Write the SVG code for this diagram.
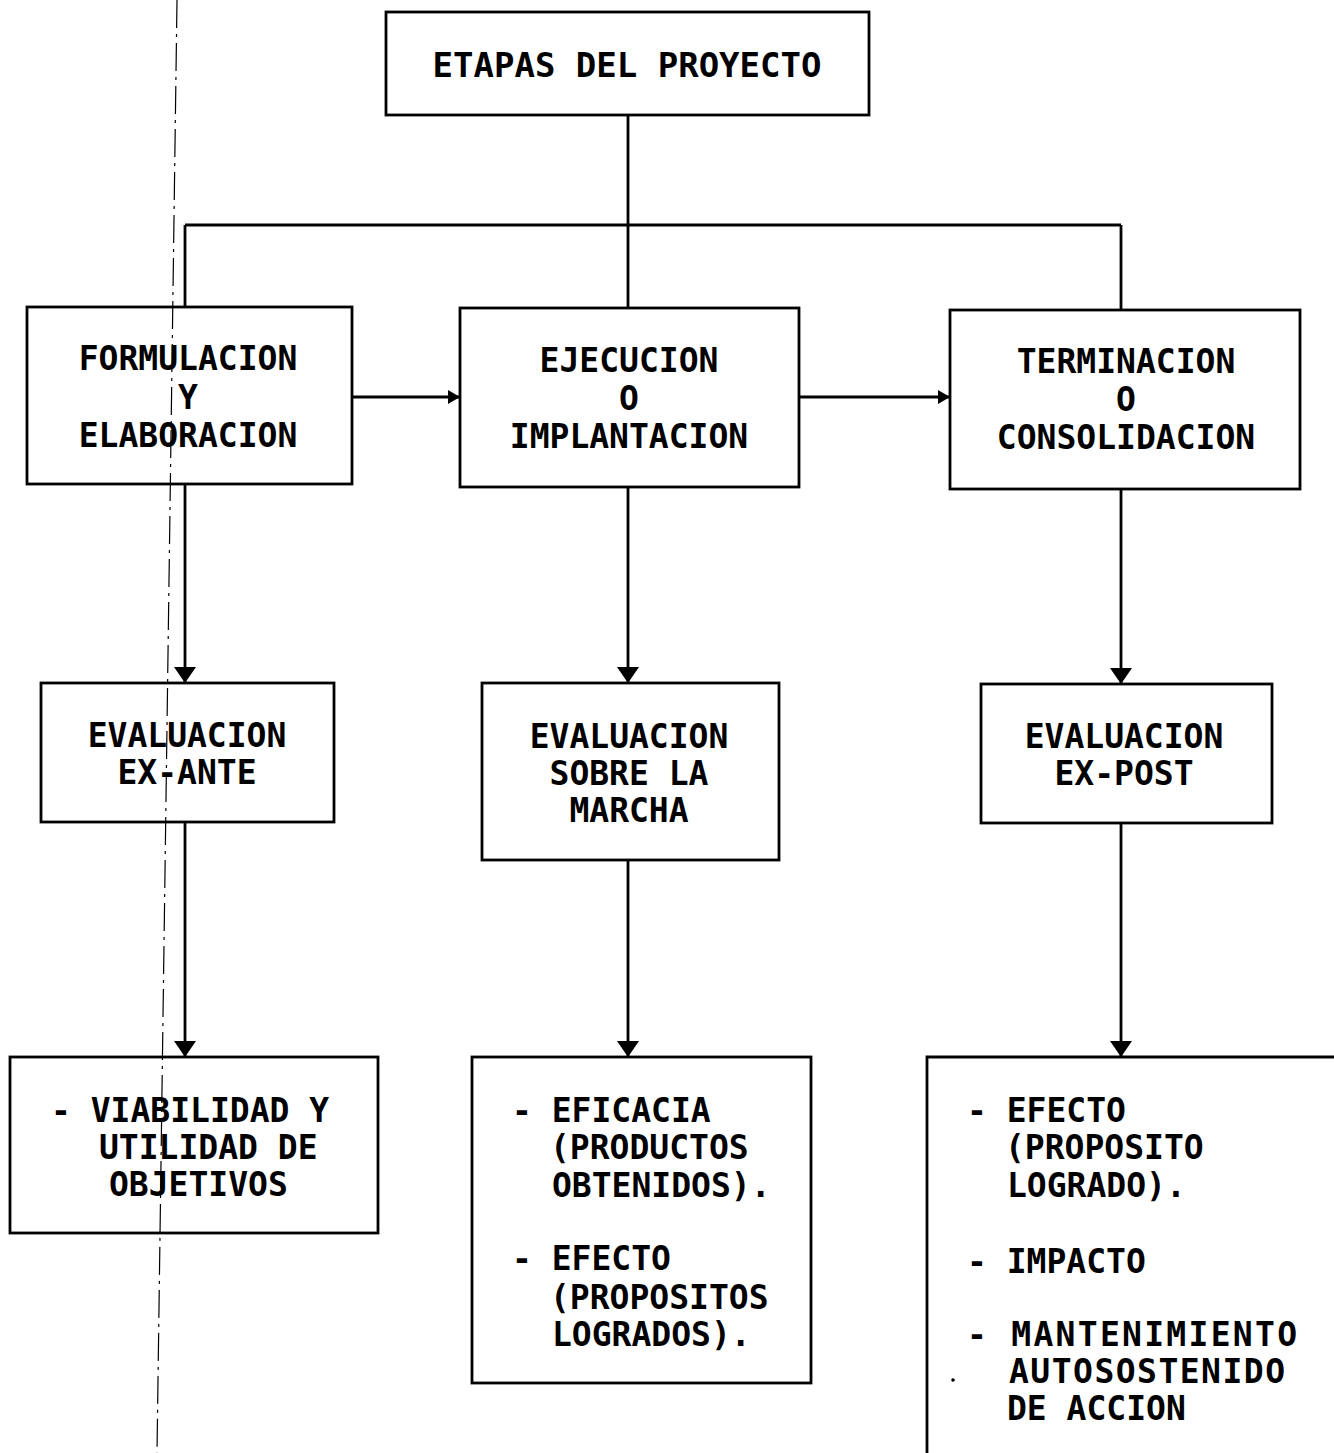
<svg xmlns="http://www.w3.org/2000/svg" width="1334" height="1453" viewBox="0 0 1334 1453">
<style>
.box{fill:#fff;stroke:#000;stroke-width:2.8}
.t{font-family:"DejaVu Sans Mono","Liberation Mono",monospace;font-size:33px;font-weight:bold;fill:#000}
.c{text-anchor:middle}
.ln{fill:none;stroke:#000;stroke-width:2.8}
</style>
<defs>
<marker id="ad" markerUnits="userSpaceOnUse" markerWidth="16" markerHeight="22" refX="16" refY="11" orient="auto" viewBox="0 0 16 22"><path d="M0,0 L16,11 L0,22 Z" fill="#000"/></marker>
<marker id="ah" markerUnits="userSpaceOnUse" markerWidth="12" markerHeight="14" refX="12" refY="7" orient="auto" viewBox="0 0 12 14"><path d="M0,0 L12,7 L0,14 Z" fill="#000"/></marker>
</defs>
<rect width="1334" height="1453" fill="#fff"/>
<g id="connectors">
<path class="ln" d="M628,115 V308"/>
<path class="ln" d="M185,225 H1121"/>
<path class="ln" d="M185,225 V307"/>
<path class="ln" d="M1121,225 V310"/>
<path class="ln" d="M352,397 H460" marker-end="url(#ah)"/>
<path class="ln" d="M799,397 H950" marker-end="url(#ah)"/>
<path class="ln" d="M185,484 V683" marker-end="url(#ad)"/>
<path class="ln" d="M628,487 V683" marker-end="url(#ad)"/>
<path class="ln" d="M1121,489 V684" marker-end="url(#ad)"/>
<path class="ln" d="M185,822 V1057" marker-end="url(#ad)"/>
<path class="ln" d="M628,860 V1057" marker-end="url(#ad)"/>
<path class="ln" d="M1121,823 V1057" marker-end="url(#ad)"/>
</g>
<g id="n-etapas">
<rect class="box" x="386" y="12" width="483" height="103"/>
<text class="t c" x="627" y="77" style="font-size:34px">ETAPAS DEL PROYECTO</text>
</g>
<g id="n-formulacion">
<rect class="box" x="27" y="307" width="325" height="177"/>
<text class="t c" x="188" y="370">FORMULACION</text>
<text class="t c" x="188" y="409">Y</text>
<text class="t c" x="188" y="447">ELABORACION</text>
</g>
<g id="n-ejecucion">
<rect class="box" x="460" y="308" width="339" height="179"/>
<text class="t c" x="629" y="372">EJECUCION</text>
<text class="t c" x="629" y="410">O</text>
<text class="t c" x="629" y="448">IMPLANTACION</text>
</g>
<g id="n-terminacion">
<rect class="box" x="950" y="310" width="350" height="179"/>
<text class="t c" x="1126" y="373">TERMINACION</text>
<text class="t c" x="1126" y="411">O</text>
<text class="t c" x="1126" y="449">CONSOLIDACION</text>
</g>
<g id="n-exante">
<rect class="box" x="41" y="683" width="293" height="139"/>
<text class="t c" x="187" y="747">EVALUACION</text>
<text class="t c" x="187" y="784">EX-ANTE</text>
</g>
<g id="n-marcha">
<rect class="box" x="482" y="683" width="297" height="177"/>
<text class="t c" x="629" y="748">EVALUACION</text>
<text class="t c" x="629" y="785">SOBRE LA</text>
<text class="t c" x="629" y="822">MARCHA</text>
</g>
<g id="n-expost">
<rect class="box" x="981" y="684" width="291" height="139"/>
<text class="t c" x="1124" y="748">EVALUACION</text>
<text class="t c" x="1124" y="785">EX-POST</text>
</g>
<g id="n-viabilidad">
<rect class="box" x="10" y="1057" width="368" height="176"/>
<text class="t" x="51" y="1122">- VIABILIDAD Y</text>
<text class="t" x="99" y="1159">UTILIDAD DE</text>
<text class="t" x="109" y="1196">OBJETIVOS</text>
</g>
<g id="n-eficacia">
<rect class="box" x="472" y="1057" width="339" height="326"/>
<text class="t" x="512" y="1122">- EFICACIA</text>
<text class="t" x="550" y="1159">(PRODUCTOS</text>
<text class="t" x="552" y="1197">OBTENIDOS).</text>
<text class="t" x="512" y="1270">- EFECTO</text>
<text class="t" x="550" y="1309">(PROPOSITOS</text>
<text class="t" x="552" y="1346">LOGRADOS).</text>
</g>
<g id="n-efecto">
<path class="box" d="M927,1460 V1057 H1340"/>
<text class="t" x="967" y="1122">- EFECTO</text>
<text class="t" x="1005" y="1159">(PROPOSITO</text>
<text class="t" x="1007" y="1197">LOGRADO).</text>
<text class="t" x="967" y="1273">- IMPACTO</text>
<text class="t" x="967" y="1346" textLength="330" lengthAdjust="spacing">- MANTENIMIENTO</text>
<text class="t" x="1009" y="1383" textLength="276" lengthAdjust="spacing">AUTOSOSTENIDO</text>
<text class="t" x="1007" y="1420">DE ACCION</text>
<circle cx="953" cy="1380" r="1.8" fill="#000"/>
</g>
<path d="M177,0 L157,1453" fill="none" stroke="#000" stroke-width="1.2" stroke-dasharray="28 6 3 6"/>
</svg>
